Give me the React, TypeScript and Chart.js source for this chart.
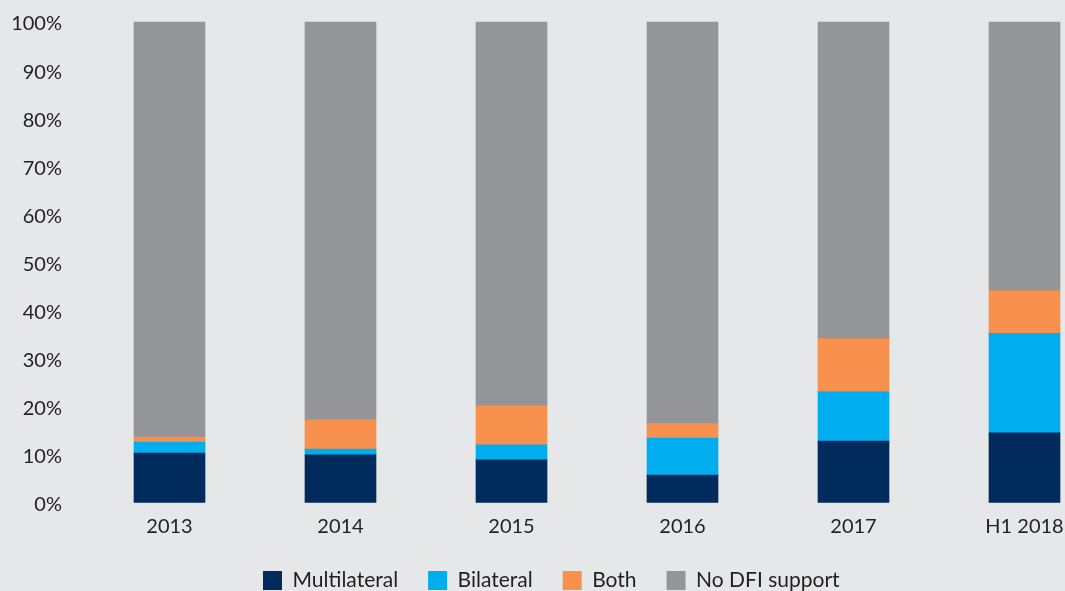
import React, { useEffect, useRef } from "react";
import { Chart, registerables } from "chart.js";

Chart.register(...registerables);

const categories = ["2013", "2014", "2015", "2016", "2017", "H1 2018"];
const multilateral = [10.3, 9.9, 8.9, 5.7, 12.8, 14.5];
const bilateral = [2.3, 1.2, 3.1, 7.7, 10.3, 20.7];
const both = [1.0, 6.1, 8.1, 3.0, 11.0, 8.9];
const noDfiSupport = [86.4, 82.8, 79.9, 83.6, 65.9, 55.9];
const yTicks = [0, 10, 20, 30, 40, 50, 60, 70, 80, 90, 100];

const FONT = "Lato, 'Liberation Sans', sans-serif";
const TEXT = "#231f20";
const BG = "#e6e7e8";

export default function App() {
  const ref = useRef<HTMLCanvasElement | null>(null);

  useEffect(() => {
    document.body.style.margin = "0";
    document.body.style.background = BG;
    const canvas = ref.current;
    if (!canvas) return;

    const legendPlace = {
      id: "legendPlace",
      afterLayout(chart: any) {
        const lg = chart.legend;
        if (!lg) return;
        const pad = lg.options.labels.padding;
        const lw = lg.lineWidths ? lg.lineWidths[0] : 0;
        // first legend box starts at x = 263
        lg.left = 2 * 263 - pad - lg.right + lw;
        const h = lg.height;
        lg.top = 570 - pad;
        lg.bottom = lg.top + h;
      },
    };

    const chart = new Chart(canvas, {
      type: "bar",
      data: {
        labels: categories,
        datasets: [
          { label: "Multilateral", data: multilateral, backgroundColor: "#002b5c" },
          { label: "Bilateral", data: bilateral, backgroundColor: "#00aeef" },
          { label: "Both", data: both, backgroundColor: "#f7914d" },
          { label: "No DFI support", data: noDfiSupport, backgroundColor: "#939598" },
        ],
      },
      options: {
        responsive: false,
        animation: false,
        maintainAspectRatio: false,
        layout: { padding: { top: 22, right: 40.5, left: 0, bottom: -12.5 } },
        datasets: { bar: { barThickness: 71, clip: false as any, borderWidth: 0 } },
        plugins: {
          tooltip: { enabled: false },
          legend: {
            position: "bottom",
            labels: {
              boxWidth: 19,
              boxHeight: 19,
              padding: 30,
              color: TEXT,
              font: { family: FONT, size: 21 },
            },
          },
        },
        scales: {
          x: {
            stacked: true,
            offset: false,
            grid: { display: false, drawTicks: false, offset: false },
            border: { display: false },
            afterFit(scale: any) {
              scale.height = 40;
              scale.paddingLeft = 0;
              scale.paddingRight = 0;
            },
            ticks: { color: TEXT, font: { family: FONT, size: 20 }, padding: 12, maxRotation: 0, autoSkip: false },
          },
          y: {
            stacked: true,
            min: 0,
            max: 100,
            grid: { display: false, drawTicks: false },
            border: { display: false },
            afterBuildTicks(scale: any) {
              scale.ticks = yTicks.map((v) => ({ value: v }));
            },
            afterFit(scale: any) {
              scale.width = 169.5;
              scale.paddingTop = 0;
              scale.paddingBottom = 0;
            },
            ticks: {
              color: TEXT,
              font: { family: FONT, size: 20 },
              padding: 107.5,
              labelOffset: 2,
              callback: (v: any) => v + "%",
            },
          },
        },
      },
      plugins: [legendPlace],
    });

    return () => chart.destroy();
  }, []);

  return (
    <div style={{ width: 1065, height: 591, background: BG }}>
      <canvas ref={ref} width={1065} height={591} style={{ display: "block" }} />
    </div>
  );
}
